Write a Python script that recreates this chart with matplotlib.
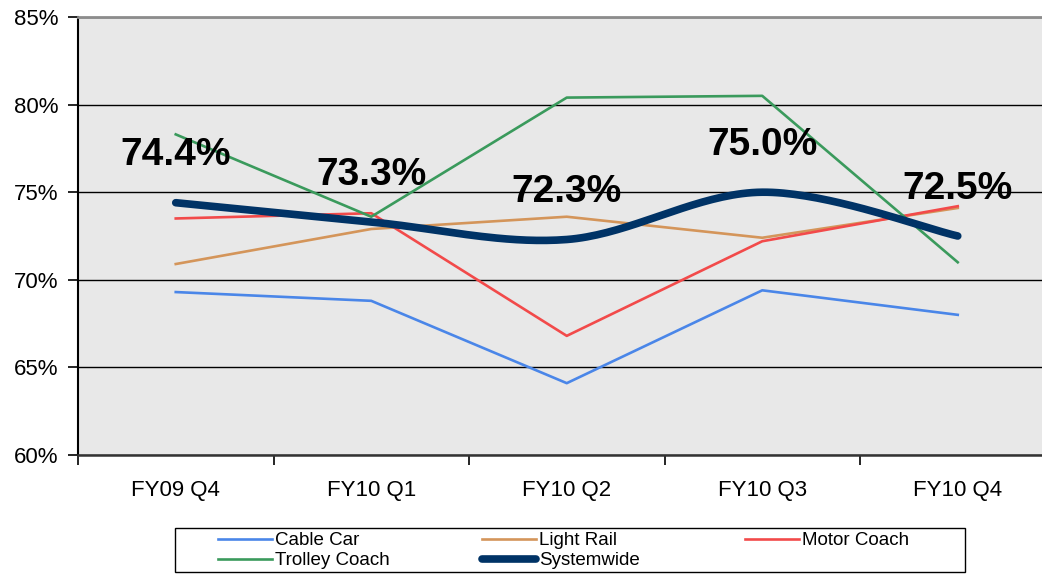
import numpy as np
import matplotlib
import matplotlib.pyplot as plt
from matplotlib.patches import Rectangle

matplotlib.use('Agg')
plt.rcParams['font.family'] = ['Liberation Sans', 'DejaVu Sans']

quarters = ["FY09 Q4", "FY10 Q1", "FY10 Q2", "FY10 Q3", "FY10 Q4"]
cable_car = [69.3, 68.8, 64.1, 69.4, 68.0]
light_rail = [70.9, 72.9, 73.6, 72.4, 74.1]
motor_coach = [73.5, 73.8, 66.8, 72.2, 74.2]
trolley_coach = [78.3, 73.6, 80.4, 80.5, 71.0]
systemwide = [74.4, 73.3, 72.3, 75.0, 72.5]


def smooth(xs, ys, n=40):
    # catmull-rom style smoothing, like the spreadsheet "smoothed line"
    xs = np.asarray(xs, float)
    ys = np.asarray(ys, float)
    px = np.concatenate([[xs[0]], xs, [xs[-1]]])
    py = np.concatenate([[ys[0]], ys, [ys[-1]]])
    out_x, out_y = [], []
    for i in range(1, len(px) - 2):
        p0, p1, p2, p3 = [np.array([px[j], py[j]]) for j in (i - 1, i, i + 1, i + 2)]
        c1 = p1 + (p2 - p0) / 6
        c2 = p2 - (p3 - p1) / 6
        t = np.linspace(0, 1, n)[:, None]
        pts = ((1 - t) ** 3) * p1 + 3 * ((1 - t) ** 2) * t * c1 + 3 * (1 - t) * t ** 2 * c2 + t ** 3 * p2
        out_x.extend(pts[:, 0])
        out_y.extend(pts[:, 1])
    return out_x, out_y


fig = plt.figure(figsize=(10.42, 5.74), dpi=100)
ax = fig.add_axes([78 / 1042, 1 - 455 / 574, (1055.5 - 78) / 1042, (455 - 17) / 574])
ax.set_facecolor('#e8e8e8')

x = np.arange(len(quarters))
l_cable, = ax.plot(x, cable_car, color='#4a86e8', lw=1.9, label='Cable Car')
l_light, = ax.plot(x, light_rail, color='#d4955a', lw=1.9, label='Light Rail')
l_motor, = ax.plot(x, motor_coach, color='#f24a4a', lw=1.9, label='Motor Coach')
l_trolley, = ax.plot(x, trolley_coach, color='#3a9a5c', lw=1.9, label='Trolley Coach')
sx, sy = smooth(x, systemwide)
l_sys, = ax.plot(sx, sy, color='#003366', lw=5.5, solid_capstyle='round', label='Systemwide')

for xi, v in zip(x, systemwide):
    ax.annotate(f"{v:.1f}%", (xi, v), xytext=(0, 34), textcoords='offset points',
                ha='center', va='center', fontsize=28, fontweight='bold', color='black')

ax.set_xlim(-0.5, len(quarters) - 0.5)
ax.set_ylim(60, 85)
ax.set_yticks([60, 65, 70, 75, 80, 85])
ax.set_yticklabels([f"{t}%" for t in [60, 65, 70, 75, 80, 85]], fontsize=16)
ax.set_xticks(x)
ax.set_xticklabels(quarters, fontsize=16)
ax.set_xticks(np.arange(-0.5, len(quarters), 1), minor=True)
ax.tick_params(axis='x', which='major', length=0, pad=18)
ax.tick_params(axis='x', which='minor', length=7, width=1.2, color='black')
ax.tick_params(axis='y', length=7, width=1.2, pad=7, color='black')
ax.grid(axis='y', color='black', lw=1)
ax.set_axisbelow(True)

ax.spines['top'].set_color('#8c8c8c')
ax.spines['top'].set_linewidth(2)
ax.spines['right'].set_visible(False)
ax.spines['left'].set_color('black')
ax.spines['left'].set_linewidth(1.5)
ax.spines['bottom'].set_color('#333333')
ax.spines['bottom'].set_linewidth(1.8)

# legend: spreadsheet lays entries out row by row, one legend per column here
columns = [([l_cable, l_trolley], 218), ([l_light, l_sys], 482), ([l_motor], 745)]
for hs, xpix in columns:
    leg = fig.legend(handles=hs, labels=[h.get_label() for h in hs],
                     loc='upper left', bbox_to_anchor=(xpix / 1042, 1 - 532 / 574),
                     frameon=False, fontsize=13.5, handlelength=2.9, handletextpad=0.15,
                     labelspacing=0.17, borderpad=0.0, borderaxespad=0.0)
fig.patches.append(Rectangle((175 / 1042, 2 / 574), 790 / 1042, 44 / 574,
                             transform=fig.transFigure, fill=False, edgecolor='black', lw=1))

fig.savefig('out.png', dpi=100)
